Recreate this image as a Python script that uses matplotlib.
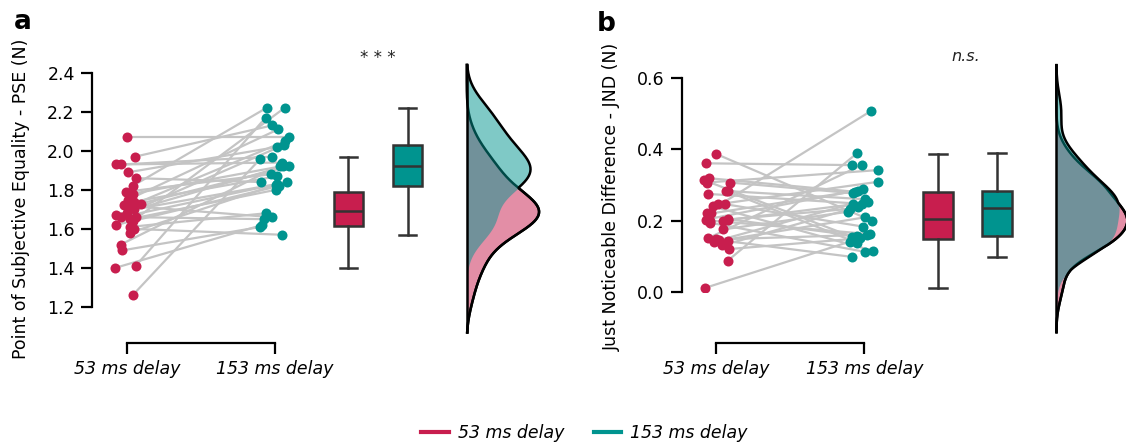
import matplotlib.pyplot as plt
import numpy as np
from matplotlib.lines import Line2D

plt.rcParams["font.family"] = ["DejaVu Sans"]

RED = "#C81E4E"
TEAL = "#00948F"
LINE_GREY = "#C4C4C4"
BOX_EDGE = "#333333"

conditions = ["53 ms delay", "153 ms delay"]

# PSE per participant (N), paired by index
pse_53 = [2.07, 1.97, 1.93, 1.93, 1.89, 1.86, 1.82, 1.79, 1.78, 1.75,
          1.74, 1.73, 1.72, 1.72, 1.70, 1.68, 1.67, 1.66, 1.66, 1.65,
          1.64, 1.62, 1.61, 1.60, 1.58, 1.52, 1.49, 1.41, 1.40, 1.26]
pse_153 = [2.07, 2.13, 1.94, 1.97, 2.02, 1.84, 2.22, 1.88, 1.92, 2.11,
           1.87, 1.92, 2.05, 1.66, 1.83, 2.03, 1.92, 1.84, 1.65, 1.80,
           2.22, 1.82, 1.68, 1.57, 1.825, 1.93, 1.61, 2.17, 1.62, 1.96]

# JND per participant (N), paired by index
jnd_53 = [0.387, 0.361, 0.319, 0.314, 0.307, 0.307, 0.284, 0.283, 0.275, 0.246,
          0.246, 0.240, 0.222, 0.220, 0.204, 0.203, 0.203, 0.200, 0.200, 0.194,
          0.175, 0.150, 0.147, 0.145, 0.142, 0.141, 0.130, 0.120, 0.087, 0.011]
jnd_153 = [0.200, 0.356, 0.281, 0.155, 0.342, 0.277, 0.138, 0.260, 0.247, 0.309,
           0.183, 0.115, 0.508, 0.284, 0.157, 0.233, 0.288, 0.162, 0.251, 0.112,
           0.225, 0.356, 0.160, 0.248, 0.098, 0.209, 0.239, 0.150, 0.389, 0.141]

# horizontal offsets of the dots
pse_53_jitter = [0.0, 0.056, -0.074, -0.04, 0.01, 0.06, 0.04, -0.007, 0.04, 0.01,
                 0.05, 0.095, 0.03, -0.02, 0.05, 0.0, -0.074, -0.04, 0.06, 0.02,
                 0.04, -0.074, 0.02, 0.05, 0.02, -0.04, -0.03, 0.06, -0.08, 0.04]
pse_153_jitter = [0.1, -0.016, 0.05, -0.02, 0.02, -0.09, -0.054, -0.027, 0.04, 0.025,
                  0.02, 0.1, 0.074, -0.016, 0.018, 0.063, 0.06, 0.085, -0.07, 0.007,
                  0.068, 0.03, -0.06, 0.05, 0.007, 0.05, -0.095, -0.06, -0.083, -0.095]
jnd_53_jitter = [0.0, -0.07, -0.047, -0.085, -0.065, 0.09, 0.065, 0.076, -0.056, 0.013,
                 0.06, -0.025, -0.065, -0.036, 0.076, 0.076, -0.07, -0.043, 0.047, -0.043,
                 0.043, -0.058, 0.0, 0.02, 0.076, -0.013, 0.04, 0.087, 0.076, -0.074]
jnd_153_jitter = [0.05, -0.085, -0.063, -0.085, 0.094, -0.074, -0.05, 0.004, -0.018, 0.094,
                  -0.007, 0.06, 0.045, -0.04, -0.05, -0.096, -0.007, 0.038, 0.027, 0.004,
                  -0.107, -0.018, 0.016, -0.074, -0.085, 0.004, -0.04, -0.03, -0.05, -0.096]


def kde(values, grid):
    # gaussian kernel density, Scott bandwidth
    values = np.asarray(values)
    bw = values.std(ddof=1) * len(values) ** (-0.2)
    z = (grid[:, None] - values[None, :]) / bw
    return np.exp(-0.5 * z ** 2).sum(axis=1) / (len(values) * bw * np.sqrt(2 * np.pi))


def draw_panel(ax, v1, v2, j1, j2, ylim, yticks, ylabel,
               kde_range, kde_width, label_xy, bracket_offset):
    x1 = np.zeros(len(v1)) + np.array(j1)
    x2 = np.ones(len(v2)) + np.array(j2)

    # paired lines
    for a, b, ya, yb in zip(x1, x2, v1, v2):
        ax.plot([a, b], [ya, yb], color=LINE_GREY, lw=1.6, zorder=1,
                solid_capstyle="round")

    ax.scatter(x1, v1, s=52, color=RED, zorder=3, linewidths=0)
    ax.scatter(x2, v2, s=52, color=TEAL, zorder=3, linewidths=0)

    # box plots
    for vals, pos, col in [(v1, 1.5, RED), (v2, 1.9, TEAL)]:
        ax.boxplot(
            [vals],
            positions=[pos],
            widths=0.2,
            patch_artist=True,
            showfliers=False,
            manage_ticks=False,
            capwidths=0.12,
            boxprops=dict(facecolor=col, edgecolor=BOX_EDGE, lw=1.8),
            medianprops=dict(color=BOX_EDGE, lw=1.8),
            whiskerprops=dict(color=BOX_EDGE, lw=1.8),
            capprops=dict(color=BOX_EDGE, lw=1.8),
        )

    # half densities
    base = 2.3
    grid = np.linspace(kde_range[0], kde_range[1], 400)
    d1 = kde(v1, grid)
    d2 = kde(v2, grid)
    scale = kde_width / max(d1.max(), d2.max())
    ax.fill_betweenx(grid, base, base + d1 * scale, color=RED,
                     alpha=0.5, lw=0, clip_on=False, zorder=2)
    ax.plot(base + d1 * scale, grid, color="black", lw=1.8,
            clip_on=False, zorder=2)
    ax.fill_betweenx(grid, base, base + d2 * scale, color=TEAL,
                     alpha=0.5, lw=0, clip_on=False, zorder=2)
    ax.plot(base + np.maximum(d1, d2) * scale, grid, color="black",
            lw=1.8, clip_on=False, zorder=2)
    ax.plot([base, base], kde_range, color="black", lw=1.8,
            clip_on=False, zorder=2)

    # spine position first: moving it resets the tick objects
    ax.spines["top"].set_visible(False)
    ax.spines["right"].set_visible(False)
    ax.spines["bottom"].set_position(("outward", bracket_offset))
    ax.spines["left"].set_linewidth(1.6)
    ax.spines["bottom"].set_linewidth(1.6)
    ax.spines["bottom"].set_bounds(0, 1)

    ax.set_xlim(-0.235, 2.83)
    ax.set_ylim(*ylim)
    ax.set_yticks(yticks)
    ax.set_yticklabels([f"{t:.1f}" for t in yticks])
    ax.set_xticks([0, 1])
    ax.set_xticklabels(conditions, fontstyle="italic")

    ax.tick_params(length=8, width=1.6, labelsize=12.5, pad=4.5)

    ax.set_ylabel(ylabel, fontsize=12.5)
    ax.yaxis.set_label_coords(*label_xy)
    return ax


fig = plt.figure(figsize=(11.26, 4.45), dpi=100)

ax_a = fig.add_axes([0.0817, 0.3101, 0.4023, 0.5265])
draw_panel(ax_a, pse_53, pse_153, pse_53_jitter, pse_153_jitter,
           ylim=(1.2, 2.4), yticks=[1.2, 1.4, 1.6, 1.8, 2.0, 2.2, 2.4],
           ylabel="Point of Subjective Equality - PSE (N)",
           kde_range=(1.07, 2.44), kde_width=0.49,
           label_xy=(-0.137, 0.46), bracket_offset=26)
ax_a.text(1.7, 2.475, "* * *", ha="center", va="center",
          fontsize=12, color="#222222")

ax_b = fig.add_axes([0.6054, 0.3445, 0.4023, 0.4795])
draw_panel(ax_b, jnd_53, jnd_153, jnd_53_jitter, jnd_153_jitter,
           ylim=(0.0, 0.6), yticks=[0.0, 0.2, 0.4, 0.6],
           ylabel="Just Noticeable Difference - JND (N)",
           kde_range=(-0.113, 0.637), kde_width=0.48,
           label_xy=(-0.134, 0.445), bracket_offset=37)
ax_b.text(1.69, 0.661, "n.s.", ha="center", va="center",
          fontsize=11.5, fontstyle="italic", color="#222222")

fig.text(0.012, 0.935, "a", fontsize=19, fontweight="bold")
fig.text(0.530, 0.930, "b", fontsize=19, fontweight="bold")

handles = [Line2D([], [], color=RED, lw=3),
           Line2D([], [], color=TEAL, lw=3)]
fig.legend(handles, conditions, loc="center", ncol=2,
           bbox_to_anchor=(0.519, 0.027), frameon=False,
           handlelength=1.6, handletextpad=0.5, columnspacing=1.7,
           prop=dict(size=12.5, style="italic"))

fig.savefig("out.png", dpi=100)
